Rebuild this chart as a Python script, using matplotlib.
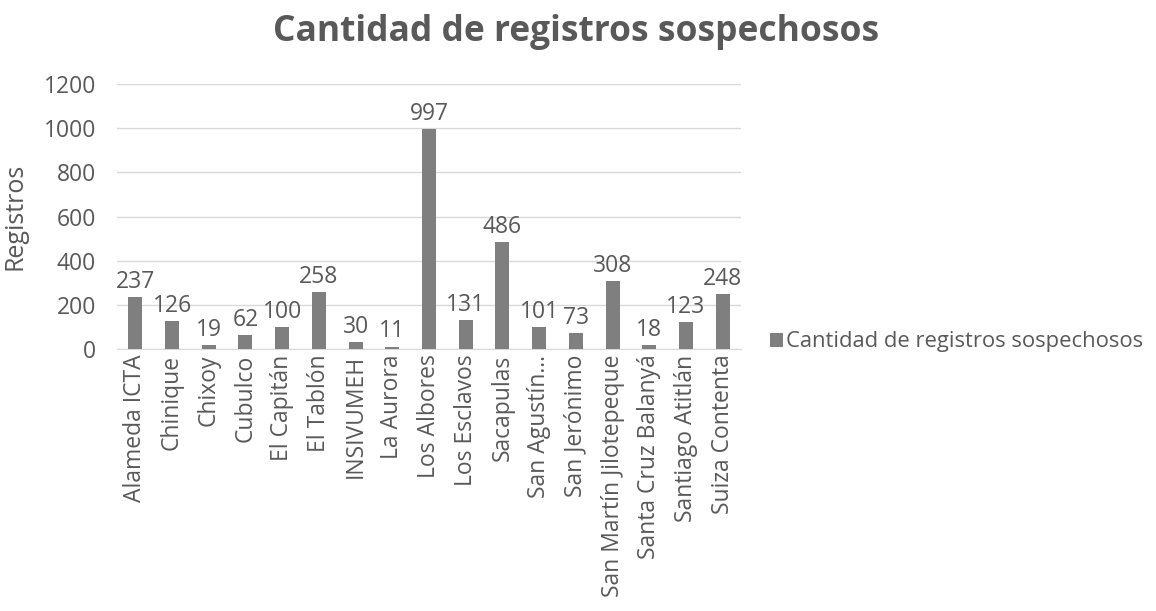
import numpy as np
import matplotlib.pyplot as plt

# datos
estaciones = ['Alameda ICTA', 'Chinique', 'Chixoy', 'Cubulco', 'El Capitán', 'El Tablón',
              'INSIVUMEH', 'La Aurora', 'Los Albores', 'Los Esclavos', 'Sacapulas',
              'San Agustín...', 'San Jerónimo', 'San Martín Jilotepeque',
              'Santa Cruz Balanyá', 'Santiago Atitlán', 'Suiza Contenta']
registros = [237, 126, 19, 62, 100, 258, 30, 11, 997, 131, 486, 101, 73, 308, 18, 123, 248]
yticks = [0, 200, 400, 600, 800, 1000, 1200]

gris_txt = '#595959'
plt.rcParams['font.family'] = ['Open Sans', 'DejaVu Sans']

fig = plt.figure(figsize=(11.56, 6.11), dpi=100)
ax = fig.add_axes([117/1156, 1-349/611, 624/1156, (349-84)/611])

x = np.arange(len(estaciones))
bars = ax.bar(x, registros, width=0.38, color='#7f7f7f', zorder=3,
              label='Cantidad de registros sospechosos')
for xi, v in zip(x, registros):
    ax.text(xi, v + 14, str(v), ha='center', va='bottom', fontsize=16.5, color=gris_txt)

ax.set_xlim(-0.5, len(estaciones) - 0.5)
ax.set_ylim(0, 1200)
ax.set_yticks(yticks)
ax.set_xticks(x)
ax.set_xticklabels(estaciones, rotation=90, fontsize=16.5, color=gris_txt)
ax.tick_params(axis='y', labelsize=16.5, labelcolor=gris_txt, length=0, pad=15)
ax.tick_params(axis='x', length=0, pad=4)
ax.grid(axis='y', color='#d9d9d9', linewidth=1, zorder=0)
for s in ['top', 'right', 'left']:
    ax.spines[s].set_visible(False)
ax.spines['bottom'].set_color('#d9d9d9')

ax.set_ylabel('Registros', fontsize=18, color=gris_txt, labelpad=12)
fig.text(576/1156, 1-32/611, 'Cantidad de registros sospechosos', ha='center', va='center',
         fontsize=25.5, fontweight='bold', color=gris_txt)

leg = fig.legend(handles=[bars], loc='center left', bbox_to_anchor=(750/1156, 1-342/611),
                 frameon=False, fontsize=15.8, handlelength=0.6, handleheight=0.6,
                 handletextpad=0.15, labelcolor=gris_txt)

fig.savefig('out.png', dpi=100)
